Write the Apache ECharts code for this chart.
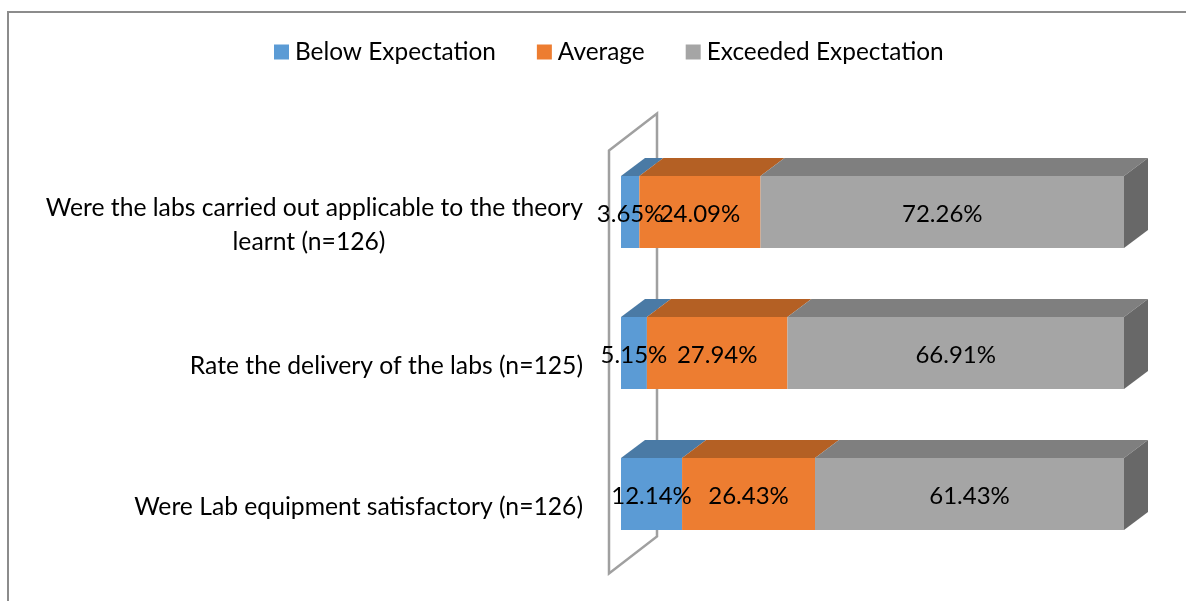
<!DOCTYPE html>
<html>
<head>
<meta charset="utf-8">
<style>html,body{margin:0;padding:0;background:#fff}#chart-container{width:1186px;height:601px}</style>
<script src="https://cdn.jsdelivr.net/npm/echarts@6/dist/echarts.min.js"></script>
</head>
<body>
<div id="chart-container"></div>
<script>
const categories = [
  'Were the labs carried out applicable to the theory\nlearnt (n=126)',
  'Rate the delivery of the labs (n=125)',
  'Were Lab equipment satisfactory (n=126)'
];
const belowExpectation = [3.65, 5.15, 12.14];
const average = [24.09, 27.94, 26.43];
const exceededExpectation = [72.26, 66.91, 61.43];

const FONT = 'Lato, Carlito, sans-serif';
const DEPTH_X = 24, DEPTH_Y = 18;   // 3d depth of the boxes

// front, top and side colours per series
const palette = {
  'Below Expectation': ['#5b9bd5', '#4a7aa5'],
  'Average': ['#ed7d31', '#b46024'],
  'Exceeded Expectation': ['#a5a5a5', '#7f7f7f', '#686868']
};

const box = (name, values, starts, isLast) => ({
  name,
  type: 'custom',
  coordinateSystem: 'cartesian2d',
  itemStyle: { color: palette[name][0] },
  encode: { x: 1, y: 0 },
  data: values.map((v, i) => [i, v, starts[i]]),
  renderItem: (params, api) => {
    const idx = api.value(0);
    const from = api.value(2), to = from + api.value(1);
    const a = api.coord([from, idx]);
    const b = api.coord([to, idx]);
    const h = api.size([0, 1])[1] * 0.51;
    const [x0, x1, yc] = [a[0], b[0], a[1]];
    const y0 = yc - h / 2, y1 = yc + h / 2;
    const colors = palette[name];
    const children = [
      { type: 'polygon', shape: { points: [[x0, y0], [x0 + DEPTH_X, y0 - DEPTH_Y], [x1 + DEPTH_X, y0 - DEPTH_Y], [x1, y0]] },
        style: { fill: colors[1] } },
      { type: 'rect', shape: { x: x0, y: y0, width: x1 - x0, height: h }, style: { fill: colors[0] } }
    ];
    if (isLast) {
      children.push({ type: 'polygon', shape: { points: [[x1, y0], [x1 + DEPTH_X, y0 - DEPTH_Y], [x1 + DEPTH_X, y1 - DEPTH_Y], [x1, y1]] },
        style: { fill: colors[2] } });
    }
    children.push({ type: 'text', z2: 100, style: {
      text: api.value(1).toFixed(2) + '%', x: (x0 + x1) / 2, y: yc + 2, align: 'center', verticalAlign: 'middle',
      fill: '#000', font: '24px ' + FONT } });
    return { type: 'group', children };
  }
});

const starts2 = belowExpectation;
const starts3 = belowExpectation.map((v, i) => v + average[i]);

const wall = {
  type: 'custom',
  silent: true,
  z: 1,
  data: [[0]],
  encode: { x: 0 },
  renderItem: (params, api) => {
    const s = params.coordSys;
    const l = s.x - 12, r = s.x + 36;
    const t = s.y + 9, b = s.y + s.height + 9;
    return { type: 'polygon', shape: { points: [[l, t], [r, t - 37], [r, b - 37], [l, b]] },
      style: { fill: 'none', stroke: '#a0a0a0', lineWidth: 2.5 } };
  }
};

const option = {
  animation: false,
  backgroundColor: '#fff',
  textStyle: { fontFamily: FONT },
  legend: {
    left: 269, top: 35, icon: 'rect', itemWidth: 15, itemHeight: 15, itemGap: 41,
    data: ['Below Expectation', 'Average', 'Exceeded Expectation'],
    textStyle: { fontFamily: FONT, fontSize: 24.4, color: '#000', padding: [0, 0, 0, 1] }
  },
  grid: { left: 621, top: 141.5, width: 503, height: 423 },
  xAxis: { type: 'value', min: 0, max: 100, show: false },
  yAxis: {
    type: 'category', inverse: true, data: categories,
    axisLine: { show: false }, axisTick: { show: false },
    axisLabel: {
      margin: 38, color: '#000', fontFamily: FONT, fontSize: 24.7, lineHeight: 34, padding: [26, 0, 0, 0],
      formatter: (v) => {
        const parts = v.split('\n');
        return parts.length > 1 ? '{first|' + parts[0] + '}\n{second|' + parts[1] + '}' : v;
      },
      rich: {
        first: { width: 548, align: 'right', fontFamily: FONT, fontSize: 24.7, lineHeight: 34, color: '#000' },
        second: { width: 548, align: 'center', fontFamily: FONT, fontSize: 24.7, lineHeight: 34, color: '#000' }
      }
    }
  },
  graphic: [{
    type: 'polyline', silent: true,
    shape: { points: [[8, 601], [8, 12], [1186, 12]] },
    style: { fill: 'none', stroke: '#8c8c8c', lineWidth: 2 }
  }],
  series: [
    wall,
    box('Below Expectation', belowExpectation, [0, 0, 0], false),
    box('Average', average, starts2, false),
    box('Exceeded Expectation', exceededExpectation, starts3, true)
  ]
};

const chart = echarts.init(document.getElementById('chart-container'));
chart.setOption(option);
</script>
</body>
</html>
